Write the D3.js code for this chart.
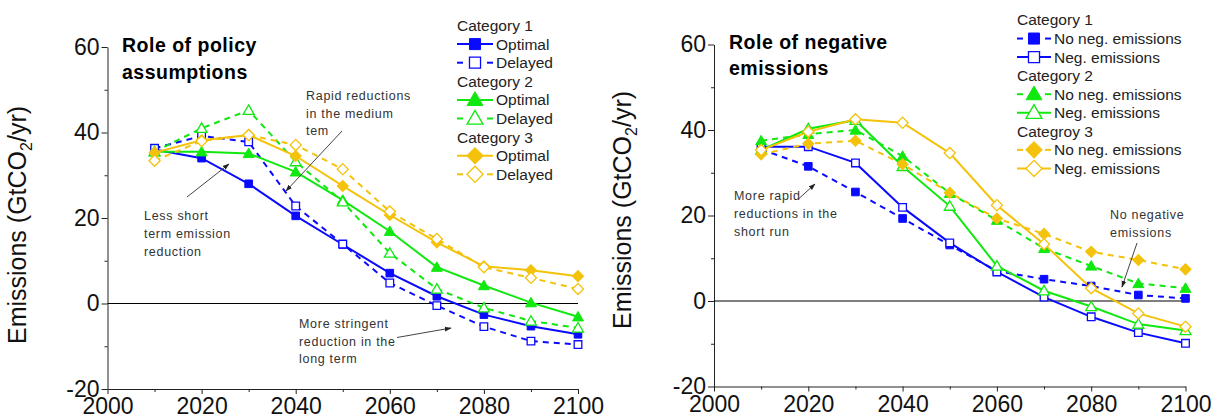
<!DOCTYPE html>
<html><head><meta charset="utf-8">
<script src="https://cdn.jsdelivr.net/npm/d3@7"></script>
<style>
body{margin:0;background:#fff;}
svg{display:block;font-family:"Liberation Sans",Arial,Helvetica,sans-serif;}
</style></head><body>
<svg id="c" width="1213" height="418"></svg>
<script>
// ---------- data ----------
const years = [2010,2020,2030,2040,2050,2060,2070,2080,2090,2100];
const xTicks = [2000,2020,2040,2060,2080,2100];
const yTicks = [-20,0,20,40,60];

// Left panel: role of policy assumptions
const cat1Optimal = [36.0,34.0,28.0,20.5,13.8,7.1,1.7,-2.6,-5.3,-7.2];
const cat1Delayed = [36.3,39.2,37.8,22.8,13.9,4.8,-0.5,-5.4,-8.8,-9.6];
const cat2Optimal = [35.5,35.5,35.1,30.8,24.2,16.9,8.5,4.2,0.2,-3.1];
const cat2Delayed = [35.5,41.0,45.2,33.2,23.8,11.8,3.4,-1.0,-4.1,-5.7];
const cat3Optimal = [35.3,38.2,39.4,34.5,27.5,20.7,14.3,8.7,7.8,6.4];
const cat3Delayed = [33.4,38.0,39.4,37.1,31.4,21.5,15.1,8.5,6.0,3.4];

// Right panel: role of negative emissions
const cat1NoNeg = [35.5,31.5,25.5,19.3,13.1,7.0,5.1,3.5,1.4,0.6];
const cat1Neg   = [36.1,36.1,32.3,21.9,13.6,6.8,0.9,-3.7,-7.4,-9.9];
const cat2NoNeg = [37.5,39.0,40.0,33.9,25.2,18.9,12.3,8.2,4.1,3.0];
const cat2Neg   = [35.3,40.3,42.3,31.5,22.2,8.2,2.4,-1.3,-5.4,-6.9];
const cat3NoNeg = [34.3,36.8,37.5,32.0,25.3,19.3,15.7,11.5,9.6,7.4];
const cat3Neg   = [35.3,39.6,42.5,41.7,34.6,22.4,13.3,3.0,-2.9,-6.0];

const leftTitle = ["Role of policy","assumptions"];
const rightTitle = ["Role of negative","emissions"];
const leftLegend = ["Category 1","Optimal","Delayed","Category 2","Optimal","Delayed","Category 3","Optimal","Delayed"];
const rightLegend = ["Category 1","No neg. emissions","Neg. emissions","Category 2","No neg. emissions","Neg. emissions","Categroy 3","No neg. emissions","Neg. emissions"];

// ---------- styles ----------
const BLUE="#0a0aff", GREEN="#10e810", GOLD="#f4c20a";

const svg = d3.select("#c");

function drawPanel(cfg){
  const x = d3.scaleLinear().domain([2000,2100]).range([cfg.x0,cfg.x1]);
  const y = d3.scaleLinear().domain([-20,60]).range([cfg.yb,cfg.yt]);
  const g = svg.append("g");

  // minor ticks
  g.append("g").attr("transform",`translate(0,${cfg.yb})`)
    .call(d3.axisBottom(x).tickValues(d3.range(2010,2100,20)).tickSize(3).tickFormat(""))
    .call(a=>a.select(".domain").remove());
  g.append("g").attr("transform",`translate(${cfg.x0},0)`)
    .call(d3.axisLeft(y).tickValues([-10,10,30,50]).tickSize(3).tickFormat(""))
    .call(a=>a.select(".domain").remove());
  // major axes
  const xa = g.append("g").attr("transform",`translate(0,${cfg.yb})`)
    .call(d3.axisBottom(x).tickValues(xTicks).tickSize(5).tickSizeOuter(0).tickFormat(d=>String(d)));
  xa.selectAll("text").attr("y",9).attr("font-size",23).attr("fill","#111").attr("font-family",null);
  const ya = g.append("g").attr("transform",`translate(${cfg.x0},0)`)
    .call(d3.axisLeft(y).tickValues(yTicks).tickSize(6).tickSizeOuter(0).tickFormat(d=>String(d)));
  ya.selectAll("text").attr("x",-8).attr("font-size",23).attr("fill","#111").attr("font-family",null);
  g.selectAll(".domain,.tick line").attr("stroke","#222");

  // zero line
  g.append("line").attr("x1",x(2000)).attr("x2",x(2100)).attr("y1",y(0)).attr("y2",y(0))
    .attr("stroke","#000").attr("stroke-width",1.2);

  // y label
  const yl = g.append("text").attr("transform",`translate(${cfg.ylx},${cfg.yly}) rotate(-90)`)
    .attr("text-anchor","middle").attr("font-size",25).attr("fill","#111");
  yl.append("tspan").text("Emissions (GtCO");
  yl.append("tspan").text("2").attr("font-size",16).attr("dy",6);
  yl.append("tspan").text("/yr)").attr("dy",-6);

  // title
  cfg.title.forEach((t,i)=>g.append("text").attr("x",cfg.tx).attr("y",cfg.ty+i*26.5)
    .attr("font-size",19.5).attr("font-weight","bold").attr("letter-spacing",0.5).attr("fill","#000").text(t));

  // series
  const line = d3.line().x((d,i)=>x(years[i])).y(d=>y(d));
  cfg.series.forEach(s=>{
    g.append("path").datum(s.values).attr("d",line).attr("fill","none")
      .attr("stroke",s.color).attr("stroke-width",2)
      .attr("stroke-dasharray",s.dashed?"6,5":null);
  });
  cfg.series.forEach(s=>{
    s.values.forEach((v,i)=>{
      drawMarker(g,x(years[i]),y(v),s.shape,s.filled,s.color,1);
    });
  });

  // legend
  cfg.legendLabels.forEach((lab,i)=>{
    const cy = cfg.ly + i*cfg.lstep;
    const sIdx = Math.floor(i/3)*2 + (i%3) - 1;
    if(i%3===0){
      g.append("text").attr("x",cfg.lx).attr("y",cy).attr("dy","0.35em")
        .attr("font-size",15.5).attr("fill","#222").text(lab);
      return;
    }
    const s = cfg.series[sIdx];
    const x0=cfg.lx, x1=cfg.lx+cfg.lw, xc=(x0+x1)/2;
    if(s.dashed){
      g.append("line").attr("x1",x0).attr("x2",x0+6).attr("y1",cy).attr("y2",cy).attr("stroke",s.color).attr("stroke-width",2);
      g.append("line").attr("x1",x1-6).attr("x2",x1).attr("y1",cy).attr("y2",cy).attr("stroke",s.color).attr("stroke-width",2);
    } else {
      g.append("line").attr("x1",x0).attr("x2",x1).attr("y1",cy).attr("y2",cy).attr("stroke",s.color).attr("stroke-width",2);
    }
    drawMarker(g,xc,cy,s.shape,s.filled,s.color,1.45);
    g.append("text").attr("x",x1+3).attr("y",cy).attr("dy","0.35em")
      .attr("font-size",15.5).attr("fill","#222").text(lab);
  });

  // annotations
  cfg.notes.forEach(n=>{
    n.lines.forEach((t,i)=>g.append("text").attr("x",n.x).attr("y",n.y+i*17.7).attr("dy","0.35em")
      .attr("font-size",12.5).attr("letter-spacing",0.7).attr("fill","#333").text(t));
    g.append("line").attr("x1",n.a[0]).attr("y1",n.a[1]).attr("x2",n.a[2]).attr("y2",n.a[3])
      .attr("stroke","#444").attr("stroke-width",1).attr("marker-end","url(#arr)");
  });
}

function drawMarker(g,cx,cy,shape,filled,color,scale){
  let path, rot=0;
  if(shape==="square") path=d3.symbol(d3.symbolSquare, 58*scale*scale)();
  else if(shape==="triangle") path=d3.symbol(d3.symbolTriangle, 52*scale*scale)();
  else { path=d3.symbol(d3.symbolSquare, 62*scale*scale)(); rot=45; }
  g.append("path").attr("d",path)
    .attr("transform",`translate(${cx},${cy+(shape==="triangle"?1:0)}) rotate(${rot})`)
    .attr("fill",filled?color:"#fff").attr("stroke",color).attr("stroke-width",filled?1:1.3);
}

// arrowhead
svg.append("defs").append("marker").attr("id","arr").attr("viewBox","0 0 10 10")
  .attr("refX",9).attr("refY",5).attr("markerWidth",7).attr("markerHeight",7).attr("orient","auto")
  .append("path").attr("d","M0,1.5 L10,5 L0,8.5 Z").attr("fill","#222");

drawPanel({
  x0:107.5,x1:578,yt:47,yb:389, ylx:26,yly:225, tx:122,ty:52, title:leftTitle,
  lx:457,ly:25.5,lstep:18.6,lw:36, legendLabels:leftLegend,
  series:[
    {values:cat1Optimal,color:BLUE,dashed:false,shape:"square",filled:true},
    {values:cat1Delayed,color:BLUE,dashed:true,shape:"square",filled:false},
    {values:cat2Optimal,color:GREEN,dashed:false,shape:"triangle",filled:true},
    {values:cat2Delayed,color:GREEN,dashed:true,shape:"triangle",filled:false},
    {values:cat3Optimal,color:GOLD,dashed:false,shape:"diamond",filled:true},
    {values:cat3Delayed,color:GOLD,dashed:true,shape:"diamond",filled:false}
  ],
  notes:[
    {lines:["Rapid reductions","in the medium","tem"],x:306,y:95.5,a:[342,131,286,191]},
    {lines:["Less short","term emission","reduction"],x:144,y:216,a:[187,197,229,164]},
    {lines:["More stringent","reduction in the","long term"],x:299,y:323.5,a:[397,337.5,451,328]}
  ]
});

drawPanel({
  x0:714,x1:1185.5,yt:44.5,yb:386.5, ylx:631,yly:210, tx:729,ty:48.5, title:rightTitle,
  lx:1017,ly:20,lstep:18.55,lw:34, legendLabels:rightLegend,
  series:[
    {values:cat1NoNeg,color:BLUE,dashed:true,shape:"square",filled:true},
    {values:cat1Neg,color:BLUE,dashed:false,shape:"square",filled:false},
    {values:cat2NoNeg,color:GREEN,dashed:true,shape:"triangle",filled:true},
    {values:cat2Neg,color:GREEN,dashed:false,shape:"triangle",filled:false},
    {values:cat3NoNeg,color:GOLD,dashed:true,shape:"diamond",filled:true},
    {values:cat3Neg,color:GOLD,dashed:false,shape:"diamond",filled:false}
  ],
  notes:[
    {lines:["More rapid","reductions in the","short run"],x:734,y:196,a:[799,198.5,815,184]},
    {lines:["No negative","emissions"],x:1110,y:215,a:[1137,243,1122,287]}
  ]
});
</script>
</body></html>
